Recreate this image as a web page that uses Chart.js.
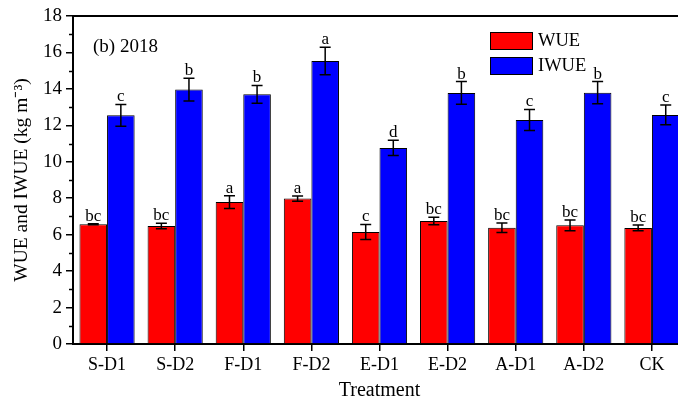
<!DOCTYPE html>
<html>
<head>
<meta charset="utf-8">
<script src="https://cdn.jsdelivr.net/npm/chart.js@4"></script>
<style>
  html, body { margin: 0; padding: 0; background: #fff; overflow: hidden; }
  #wrap { width: 678px; height: 403px; overflow: hidden; }
  canvas { display: block; }
</style>
</head>
<body>
<div id="wrap"><canvas id="chart" width="700" height="403"></canvas></div>
<script>
// datos
const treatments = ["S-D1", "S-D2", "F-D1", "F-D2", "E-D1", "E-D2", "A-D1", "A-D2", "CK"];
const wue = [6.57, 6.48, 7.79, 7.98, 6.15, 6.75, 6.38, 6.51, 6.37];
const wueErr = [0.03, 0.15, 0.35, 0.14, 0.41, 0.2, 0.26, 0.3, 0.16];
const wueLetters = ["bc", "bc", "a", "a", "c", "bc", "bc", "bc", "bc"];
const iwue = [12.55, 13.96, 13.7, 15.53, 10.76, 13.78, 12.29, 13.79, 12.57];
const iwueErr = [0.6, 0.63, 0.49, 0.76, 0.42, 0.62, 0.58, 0.61, 0.54];
const iwueLetters = ["c", "b", "b", "a", "d", "b", "c", "b", "c"];
const yTicks = [0, 2, 4, 6, 8, 10, 12, 14, 16, 18];

const serif = "'Liberation Serif', 'Times New Roman', serif";

// barras de error, letras, leyenda y marco
const extras = {
    id: "extras",
    afterDatasetsDraw(chart) {
        const ctx = chart.ctx;
        const y = chart.scales.y;
        const area = chart.chartArea;
        const errs = [wueErr, iwueErr];
        const letters = [wueLetters, iwueLetters];

        ctx.save();
        // marco superior
        ctx.strokeStyle = "#000";
        ctx.lineWidth = 2;
        ctx.beginPath();
        ctx.moveTo(area.left, area.top);
        ctx.lineTo(area.right, area.top);
        ctx.stroke();

        // ticks menores
        ctx.lineWidth = 1.5;
        for (let v = 1; v < 18; v += 2) {
            const py = Math.round(y.getPixelForValue(v)) + 0.5;
            ctx.beginPath();
            ctx.moveTo(area.left, py);
            ctx.lineTo(area.left - 4, py);
            ctx.stroke();
        }

        chart.data.datasets.forEach((ds, i) => {
            const meta = chart.getDatasetMeta(i);
            meta.data.forEach((bar, j) => {
                const v = ds.data[j];
                const e = errs[i][j];
                const top = y.getPixelForValue(v + e);
                const bot = y.getPixelForValue(v - e);
                ctx.strokeStyle = "#000";
                ctx.lineWidth = 1.5;
                ctx.beginPath();
                ctx.moveTo(bar.x, top);
                ctx.lineTo(bar.x, bot);
                ctx.moveTo(bar.x - 5.5, top);
                ctx.lineTo(bar.x + 5.5, top);
                ctx.moveTo(bar.x - 5.5, bot);
                ctx.lineTo(bar.x + 5.5, bot);
                ctx.stroke();

                ctx.fillStyle = "#000";
                ctx.font = "17px " + serif;
                ctx.textAlign = "center";
                ctx.textBaseline = "alphabetic";
                ctx.fillText(letters[i][j], bar.x, top - 3);
            });
        });

        // etiqueta del panel
        ctx.font = "19px " + serif;
        ctx.textAlign = "left";
        ctx.textBaseline = "middle";
        ctx.fillText("(b) 2018", 93, 47);

        // leyenda
        chart.data.datasets.forEach((ds, i) => {
            const ly = 32 + i * 25;
            ctx.fillStyle = ds.backgroundColor;
            ctx.fillRect(490, ly, 42, 17);
            ctx.strokeStyle = "#000";
            ctx.lineWidth = 1;
            ctx.strokeRect(490.5, ly + 0.5, 42, 17);
            ctx.fillStyle = "#000";
            ctx.font = "18.5px " + serif;
            ctx.textBaseline = "middle";
            ctx.fillText(ds.label, 538, ly + 9);
        });
        ctx.restore();
    }
};

const ctx = document.getElementById("chart").getContext("2d");

new Chart(ctx, {
    type: "bar",
    data: {
        labels: treatments,
        datasets: [
            {
                label: "WUE",
                data: wue,
                backgroundColor: "#ff0000",
                borderColor: "#000",
                borderWidth: 1
            },
            {
                label: "IWUE",
                data: iwue,
                backgroundColor: "#0000ff",
                borderColor: "#000",
                borderWidth: 1
            }
        ]
    },
    options: {
        responsive: false,
        animation: false,
        layout: { padding: { left: 0, top: 16, right: 14, bottom: 0 } },
        datasets: {
            bar: { categoryPercentage: 0.81, barPercentage: 1 }
        },
        plugins: {
            legend: { display: false },
            tooltip: { enabled: false }
        },
        scales: {
            x: {
                grid: {
                    offset: false,
                    drawOnChartArea: false,
                    drawTicks: true,
                    tickLength: 7,
                    color: "#000",
                    lineWidth: 1.5
                },
                border: { color: "#000", width: 2 },
                ticks: {
                    color: "#000",
                    font: { family: serif, size: 18 },
                    padding: 3,
                    maxRotation: 0
                },
                title: {
                    display: true,
                    text: "Treatment",
                    color: "#000",
                    font: { family: serif, size: 20 },
                    padding: { top: 0, bottom: 0 }
                },
                afterFit(scale) { scale.height = 59; }
            },
            y: {
                min: 0,
                max: 18,
                afterBuildTicks(scale) {
                    scale.ticks = yTicks.map(v => ({ value: v }));
                },
                grid: {
                    drawOnChartArea: false,
                    drawTicks: true,
                    tickLength: 7,
                    color: "#000",
                    lineWidth: 1.5
                },
                border: { color: "#000", width: 2 },
                ticks: {
                    color: "#000",
                    font: { family: serif, size: 19 },
                    padding: 4
                },
                title: {
                    display: true,
                    text: "WUE and IWUE (kg m\u207B\u00B3)",
                    color: "#000",
                    font: { family: serif, size: 19.5 },
                    padding: { top: 10, bottom: 0 }
                },
                afterFit(scale) { scale.width = 73; }
            }
        }
    },
    plugins: [extras]
});
</script>
</body>
</html>
